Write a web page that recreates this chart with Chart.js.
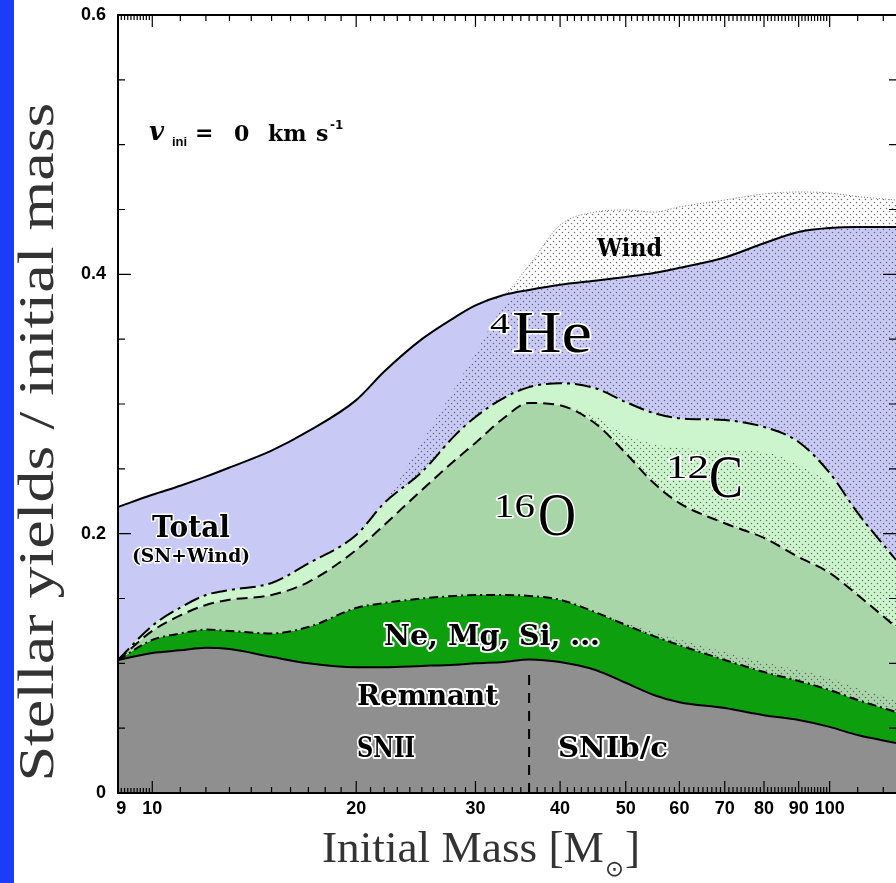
<!DOCTYPE html>
<html>
<head>
<meta charset="utf-8">
<title>Stellar yields</title>
<script src="https://cdn.jsdelivr.net/npm/chart.js@4.4.0/dist/chart.umd.min.js"></script>
<style>
  html, body { margin: 0; padding: 0; background: #fff; }
  canvas { display: block; }
</style>
</head>
<body>
<canvas id="graphicYields" width="896" height="883"></canvas>
<script>
// Stellar yields / initial mass, v_ini = 0 km/s
// Librerias: Chart.js

//--- Data (each array is the upper edge of a band)
const masses      = [8.9, 10, 11, 12, 13, 15, 17, 20, 22, 25, 28, 30, 33, 36, 40, 45, 50, 55, 60, 70, 80, 90, 100, 110, 125.3];
const remnantTop  = [0.1026, 0.108, 0.110, 0.112, 0.111, 0.105, 0.100, 0.097, 0.097, 0.098, 0.099, 0.100, 0.101, 0.103, 0.101, 0.095, 0.085, 0.0756, 0.070, 0.0655, 0.060, 0.0563, 0.051, 0.0447, 0.0386];
const neTop       = [0.1026, 0.118, 0.123, 0.126, 0.125, 0.123, 0.128, 0.1427, 0.1465, 0.150, 0.152, 0.1527, 0.1527, 0.152, 0.149, 0.1396, 0.1296, 0.121, 0.114, 0.1026, 0.0933, 0.0864, 0.0794, 0.0717, 0.0625];
const oTop        = [0.1026, 0.125, 0.137, 0.145, 0.149, 0.1527, 0.1627, 0.1874, 0.2067, 0.2337, 0.2568, 0.270, 0.289, 0.3008, 0.299, 0.2853, 0.262, 0.239, 0.2236, 0.208, 0.1967, 0.182, 0.1697, 0.1527, 0.128];
const cTop        = [0.1026, 0.129, 0.143, 0.1527, 0.1565, 0.162, 0.177, 0.199, 0.2236, 0.2476, 0.276, 0.290, 0.3046, 0.313, 0.316, 0.3123, 0.3015, 0.293, 0.289, 0.2876, 0.2823, 0.2707, 0.2468, 0.216, 0.1797];
const totalTop    = [0.2206, 0.230, 0.237, 0.244, 0.251, 0.264, 0.279, 0.303, 0.325, 0.350, 0.367, 0.376, 0.384, 0.388, 0.392, 0.395, 0.398, 0.401, 0.405, 0.413, 0.424, 0.4326, 0.4357, 0.4365, 0.4365];
const windTop     = [0.2206, 0.230, 0.237, 0.244, 0.251, 0.264, 0.279, 0.303, 0.325, 0.350, 0.367, 0.376, 0.384, 0.407, 0.438, 0.448, 0.4496, 0.448, 0.452, 0.4573, 0.462, 0.4635, 0.4627, 0.460, 0.4573];
// stippled (wind) parts inside the He, C and Ne bands
const heWindEdge  = [0.1026, 0.129, 0.143, 0.1527, 0.1565, 0.162, 0.177, 0.199, 0.2236, 0.2707, 0.313, 0.339, 0.375, 0.388, 0.392, 0.395, 0.398, 0.401, 0.405, 0.413, 0.424, 0.4326, 0.4357, 0.4365, 0.4365];
const cWindTop    = [0.1026, 0.125, 0.137, 0.145, 0.149, 0.1527, 0.1627, 0.1874, 0.2067, 0.2337, 0.2568, 0.270, 0.289, 0.3008, 0.299, 0.2907, 0.276, 0.269, 0.266, 0.2645, 0.263, 0.253, 0.239, 0.218, 0.178];
const neWindTop   = [0.1026, 0.118, 0.123, 0.126, 0.125, 0.123, 0.128, 0.1427, 0.1465, 0.150, 0.152, 0.1527, 0.1527, 0.152, 0.149, 0.1396, 0.1311, 0.1241, 0.1186, 0.1088, 0.101, 0.0949, 0.0887, 0.081, 0.0718];

//--- Axis ticks
const xTickLabels = [9, 10, 20, 30, 40, 50, 60, 70, 80, 90, 100];
const yTickLabels = [0, 0.2, 0.4, 0.6];
const snSplitMass = 36;

function pts(arr){
  return arr.map(function(v, i){ return {x: masses[i], y: v}; });
}

function makeDots(){
  var c = document.createElement('canvas');
  c.width = 6; c.height = 6;
  var g = c.getContext('2d');
  g.fillStyle = 'rgba(75,75,75,0.8)';
  g.beginPath(); g.arc(1.5, 1.5, 0.75, 0, Math.PI * 2); g.fill();
  g.beginPath(); g.arc(4.5, 4.5, 0.75, 0, Math.PI * 2); g.fill();
  return g.createPattern(c, 'repeat');
}

function drawLabel(ctx, text, x, y, font, width, halo){
  ctx.save();
  ctx.font = font;
  var w = ctx.measureText(text).width;
  ctx.translate(x, y);
  if (width) ctx.scale(width / w, 1);
  ctx.textAlign = 'left';
  ctx.textBaseline = 'alphabetic';
  if (halo) {
    ctx.lineJoin = 'round';
    ctx.lineWidth = halo;
    ctx.strokeStyle = '#fff';
    ctx.strokeText(text, 0, 0);
  }
  ctx.fillStyle = '#000';
  ctx.fillText(text, 0, 0);
  ctx.restore();
}

const decorPlugin = {
  id: 'decor',
  afterDraw: function(chart){
    var ctx = chart.ctx;
    var xs = chart.scales.x, ys = chart.scales.y;
    var a = chart.chartArea;
    ctx.save();

    //--- blue strip
    ctx.fillStyle = '#1b3cfa';
    ctx.fillRect(0, 0, 14, chart.height);

    //--- SNII / SNIb/c split
    var xs36 = xs.getPixelForValue(snSplitMass);
    ctx.strokeStyle = '#000';
    ctx.lineWidth = 2;
    ctx.setLineDash([10, 8]);
    ctx.beginPath();
    ctx.moveTo(xs36, a.bottom);
    ctx.lineTo(xs36, 668);
    ctx.stroke();
    ctx.setLineDash([]);

    //--- frame
    ctx.lineWidth = 2;
    ctx.beginPath();
    ctx.moveTo(a.right + 2, a.top);
    ctx.lineTo(a.left, a.top);
    ctx.lineTo(a.left, a.bottom);
    ctx.lineTo(a.right + 2, a.bottom);
    ctx.stroke();

    //--- x ticks (bottom and top)
    var xt = [];
    for (var k = 90; k < 100; k++) xt.push({m: k / 10, len: 5});
    for (var m = 10; m <= 100; m++) xt.push({m: m, len: (m % 10 === 0) ? 12 : 6});
    xt.push({m: 110, len: 6});
    xt.push({m: 120, len: 6});
    ctx.lineWidth = 1.2;
    ctx.beginPath();
    xt.forEach(function(t){
      var px = xs.getPixelForValue(t.m);
      if (px < a.left || px > a.right) return;
      ctx.moveTo(px, a.bottom); ctx.lineTo(px, a.bottom - t.len);
      ctx.moveTo(px, a.top);    ctx.lineTo(px, a.top + t.len);
    });
    ctx.stroke();

    //--- y ticks (left and right)
    ctx.beginPath();
    for (var j = 1; j < 12; j++) {
      var py = ys.getPixelForValue(j * 0.05);
      var len = (j % 4 === 0) ? 13 : 7;
      ctx.moveTo(a.left, py);  ctx.lineTo(a.left + len, py);
      ctx.moveTo(a.right, py); ctx.lineTo(a.right - len, py);
    }
    ctx.stroke();

    //--- tick labels
    ctx.fillStyle = '#000';
    ctx.font = 'bold 18px "Liberation Sans", Arial, sans-serif';
    ctx.textAlign = 'center';
    ctx.textBaseline = 'middle';
    xTickLabels.forEach(function(v){
      ctx.fillText(String(v), xs.getPixelForValue(v), 809);
    });
    ctx.textAlign = 'right';
    yTickLabels.forEach(function(v){
      ctx.fillText(v === 0 ? '0' : v.toFixed(1), 106, ys.getPixelForValue(v));
    });

    //--- axis titles
    var titleFont = '"Liberation Serif", "Times New Roman", serif';
    ctx.fillStyle = '#333';
    ctx.save();
    ctx.translate(53, 442);
    ctx.rotate(-Math.PI / 2);
    ctx.font = '50px ' + titleFont;
    var ttl = 'Stellar yields / initial mass';
    var tw = ctx.measureText(ttl).width;
    ctx.scale(679 / tw, 1);
    ctx.textAlign = 'center';
    ctx.textBaseline = 'alphabetic';
    ctx.fillText(ttl, 0, 0);
    ctx.restore();

    ctx.save();
    ctx.textAlign = 'left';
    ctx.textBaseline = 'alphabetic';
    ctx.font = '44px ' + titleFont;
    var part1 = 'Initial Mass [M';
    var w1 = ctx.measureText(part1).width;
    var w3 = ctx.measureText(']').width;
    ctx.font = '22px "DejaVu Sans", sans-serif';
    var w2 = ctx.measureText('\u2299').width;
    var sx = 318 / (w1 + w2 + w3 + 2);
    ctx.translate(322, 862);
    ctx.scale(sx, 1);
    ctx.font = '44px ' + titleFont;
    ctx.fillText(part1, 0, 0);
    ctx.fillText(']', w1 + w2 + 2, 0);
    ctx.font = '22px "DejaVu Sans", sans-serif';
    ctx.fillText('\u2299', w1 + 1, 14);
    ctx.restore();

    //--- v_ini label
    ctx.fillStyle = '#000';
    ctx.textAlign = 'left';
    ctx.textBaseline = 'alphabetic';
    ctx.font = 'italic bold 26px "DejaVu Serif", serif';
    ctx.fillText('v', 149, 140);
    ctx.font = 'bold 13px "Liberation Sans", sans-serif';
    ctx.fillText('ini', 172, 146);
    ctx.font = 'bold 22px "DejaVu Serif", serif';
    ctx.fillText('=', 195, 140);
    ctx.fillText('0', 234, 141);
    ctx.fillText('km', 268, 141);
    ctx.fillText('s', 316, 141);
    ctx.font = 'bold 12px "DejaVu Sans", sans-serif';
    ctx.fillText('-1', 330, 129);

    //--- region labels
    var serif = '"Liberation Serif", "Times New Roman", serif';
    var slab = '"DejaVu Serif", serif';
    drawLabel(ctx, '4', 490, 333, '30px ' + serif, 20, 3);
    drawLabel(ctx, 'He', 512, 352, '60px ' + serif, 80, 3);
    drawLabel(ctx, '12', 666, 478, '34px ' + serif, 43, 3);
    drawLabel(ctx, 'C', 709, 497, '62px ' + serif, 34, 3);
    drawLabel(ctx, '16', 494, 517, '34px ' + serif, 41, 3);
    drawLabel(ctx, 'O', 538, 535, '62px ' + serif, 38, 3);

    drawLabel(ctx, 'Wind', 597, 256, 'bold 24px ' + slab, 65, 0);
    drawLabel(ctx, 'Total', 152, 537, 'bold 30px ' + slab, 78, 3);
    drawLabel(ctx, '(SN+Wind)', 132, 562, 'bold 19px ' + slab, 118, 3);
    drawLabel(ctx, 'Ne, Mg, Si, ...', 384, 645, 'bold 28px ' + slab, 216, 4);
    drawLabel(ctx, 'Remnant', 357, 705, 'bold 28px ' + slab, 141, 4);
    drawLabel(ctx, 'SNII', 357, 757, 'bold 28px ' + slab, 58, 4);
    drawLabel(ctx, 'SNIb/c', 558, 757, 'bold 28px ' + slab, 110, 4);

    ctx.restore();
  }
};

//-----GRAPHIC
let chartYields;

function drawYields(){
  var ctx = document.getElementById('graphicYields').getContext('2d');
  var dots = makeDots();

  if (chartYields) {
    chartYields.destroy();
  }

  chartYields = new Chart(ctx, {
    type: 'line',
    data: {
      datasets: [
        {
          label: 'Wind',
          data: pts(windTop),
          fill: 4,
          backgroundColor: dots,
          borderColor: 'rgba(90,90,90,0.8)',
          borderWidth: 1,
          borderDash: [1, 2],
          segment: {
            borderColor: function(c){
              var i0 = c.p0DataIndex, i1 = c.p1DataIndex;
              return (windTop[i0] === totalTop[i0] && windTop[i1] === totalTop[i1]) ? 'transparent' : undefined;
            }
          }
        },
        { label: 'He wind', data: pts(heWindEdge), fill: 5, backgroundColor: dots, borderColor: 'transparent', borderWidth: 1 },
        { label: 'C wind', data: pts(cWindTop), fill: 6, backgroundColor: dots, borderColor: 'transparent', borderWidth: 1 },
        { label: 'Ne wind', data: pts(neWindTop), fill: 7, backgroundColor: dots, borderColor: 'transparent', borderWidth: 1 },
        { label: '4He', data: pts(totalTop), fill: 5, backgroundColor: '#c9c9f6', borderColor: '#000', borderWidth: 2 },
        { label: '12C', data: pts(cTop), fill: 6, backgroundColor: '#cdf5cd', borderColor: '#000', borderWidth: 2, borderDash: [16, 5, 3, 5] },
        { label: '16O', data: pts(oTop), fill: 7, backgroundColor: '#a9d6a9', borderColor: '#000', borderWidth: 2, borderDash: [11, 6] },
        { label: 'Ne, Mg, Si', data: pts(neTop), fill: 8, backgroundColor: '#0e9f0e', borderColor: '#000', borderWidth: 2, borderDash: [9, 4, 2, 4] },
        { label: 'Remnant', data: pts(remnantTop), fill: 'origin', backgroundColor: '#8f8f8f', borderColor: '#000', borderWidth: 2 }
      ]
    },
    options: {
      responsive: false,
      devicePixelRatio: 1,
      animation: false,
      layout: { padding: { left: 118, right: 0, top: 15, bottom: 90 } },
      elements: {
        point: { radius: 0 },
        line: { cubicInterpolationMode: 'monotone' }
      },
      scales: {
        x: { type: 'logarithmic', min: 8.9, max: 125.3, display: false },
        y: { type: 'linear', min: 0, max: 0.6, display: false }
      },
      plugins: {
        legend: { display: false },
        tooltip: { enabled: false },
        filler: { drawTime: 'beforeDatasetsDraw' }
      }
    },
    plugins: [decorPlugin]
  });
}

drawYields();
</script>
</body>
</html>
